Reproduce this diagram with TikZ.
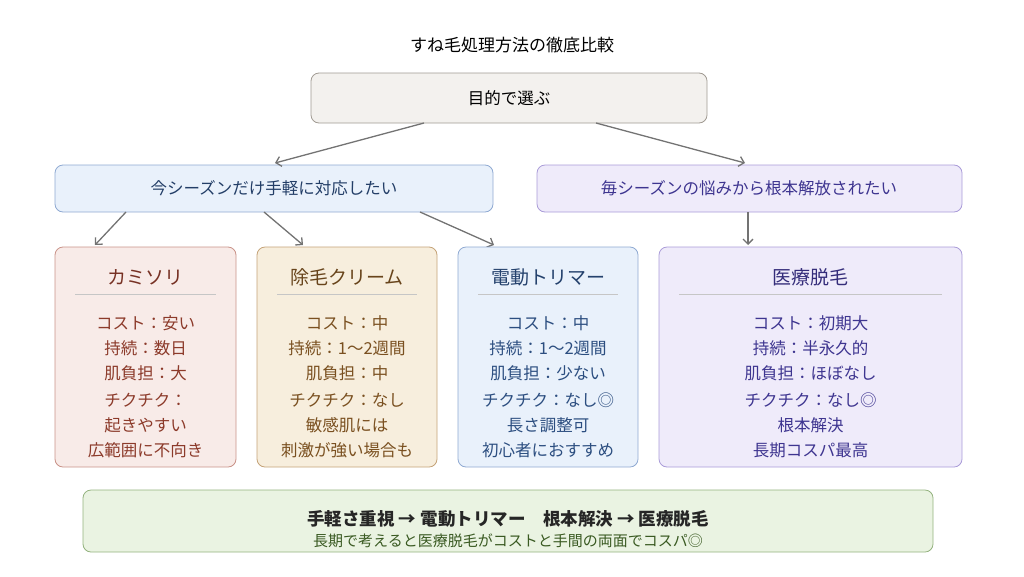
\documentclass[tikz,border=0pt]{standalone}
\usepackage{fontspec}
\usetikzlibrary{arrows.meta}
\setmainfont{Noto Sans CJK JP}
\begin{document}
\begin{tikzpicture}[x=1pt,y=-1pt,
 box/.style={draw,rounded corners=8pt,line width=0.8pt},
 arr/.style={draw=gray!90!black,line width=1.3pt,-{Straight Barb[length=5pt,width=10pt]}},
 t/.style={font=\fontsize{16.5}{19}\selectfont},
 h/.style={font=\fontsize{19}{22}\selectfont}]
\useasboundingbox (0,0) rectangle (1024,576);
\definecolor{gb}{HTML}{F3F1EE}\definecolor{gd}{HTML}{A09A92}
\definecolor{bb}{HTML}{E9F1FB}\definecolor{bd}{HTML}{8FA9D2}
\definecolor{lb}{HTML}{EFEBFA}\definecolor{ld}{HTML}{A99BD8}
\definecolor{pb}{HTML}{F8EBE8}\definecolor{pd}{HTML}{C99288}\definecolor{pt}{HTML}{8C3A2A}
\definecolor{cb}{HTML}{F7EEDD}\definecolor{cd}{HTML}{C4A277}\definecolor{ct}{HTML}{7A5020}
\definecolor{bt}{HTML}{2C4E80}\definecolor{lt}{HTML}{3E3590}
\definecolor{eb}{HTML}{EAF3E2}\definecolor{ed}{HTML}{93B27E}\definecolor{et}{HTML}{3A5A22}
\node[font=\fontsize{17}{20}\selectfont] (title) at (512,45) {すね毛処理方法の徹底比較};
\draw[box,fill=gb,draw=gd] (311,73) rectangle (707,123);
\node[t] (top) at (509,98) {目的で選ぶ};
\draw[box,fill=bb,draw=bd] (55,165) rectangle (493,212);
\node[t,text=bt!80!black] (ml) at (274,188) {今シーズンだけ手軽に対応したい};
\draw[box,fill=lb,draw=ld] (537,165) rectangle (962,212);
\node[t,text=lt] (mr) at (749,188) {毎シーズンの悩みから根本解放されたい};
\coordinate (a1) at (424,123);\coordinate (a2) at (275,163);
\coordinate (b1) at (596,123);\coordinate (b2) at (745,163);
\coordinate (c1) at (126,212);\coordinate (c2) at (95,245);
\coordinate (d1) at (264,212);\coordinate (d2) at (303,245);
\coordinate (e1) at (420,212);\coordinate (e2) at (494,245);
\coordinate (f1) at (748,212);\coordinate (f2) at (748,245);
\foreach \p/\q in {a1/a2,b1/b2,c1/c2,d1/d2,e1/e2,f1/f2} \draw[arr] (\p) -- (\q);
% boxes
\foreach \x/\X/\f/\d/\c/\n [count=\i] in {55/236/pb/pd/pt/カミソリ,257/437/cb/cd/ct/除毛クリーム,458/638/bb/bd/bt/電動トリマー,659/962/lb/ld/lt/医療脱毛}{
 \draw[box,fill=\f,draw=\d] (\x,247) rectangle (\X,467);
 \node[h,text=\c!85!black] (hd\i) at ({(\x+\X)/2},277) {\n};
 \draw[gray!45,line width=0.8pt] ({\x+20},294) -- ({\X-20},294);
}
\begin{scope}[every node/.style={t,text=pt}]
\node (p1) at (145.5,323) {コスト：安い};
\node (p2) at (145.5,348) {持続：数日};
\node (p3) at (145.5,373) {肌負担：大};
\node (p4) at (145.5,400) {チクチク：};
\node (p5) at (145.5,425) {起きやすい};
\node (p6) at (145.5,450) {広範囲に不向き};
\end{scope}
\begin{scope}[every node/.style={t,text=ct}]
\node (q1) at (347,323) {コスト：中};
\node (q2) at (347,348) {持続：1〜2週間};
\node (q3) at (347,373) {肌負担：中};
\node (q4) at (347,400) {チクチク：なし};
\node (q5) at (347,425) {敏感肌には};
\node (q6) at (347,450) {刺激が強い場合も};
\end{scope}
\begin{scope}[every node/.style={t,text=bt}]
\node (r1) at (548,323) {コスト：中};
\node (r2) at (548,348) {持続：1〜2週間};
\node (r3) at (548,373) {肌負担：少ない};
\node (r4) at (548,400) {チクチク：なし◎};
\node (r5) at (548,425) {長さ調整可};
\node (r6) at (548,450) {初心者におすすめ};
\end{scope}
\begin{scope}[every node/.style={t,text=lt}]
\node (s1) at (810.5,323) {コスト：初期大};
\node (s2) at (810.5,348) {持続：半永久的};
\node (s3) at (810.5,373) {肌負担：ほぼなし};
\node (s4) at (810.5,400) {チクチク：なし◎};
\node (s5) at (810.5,425) {根本解決};
\node (s6) at (810.5,450) {長期コスパ最高};
\end{scope}
\draw[box,fill=eb,draw=ed] (83,490) rectangle (933,552);
\node[font=\fontsize{17.5}{20}\selectfont\bfseries,text=black!85] (bt1) at (508,519) {手軽さ重視 → 電動トリマー\quad 根本解決 → 医療脱毛};
\node[font=\fontsize{15}{17}\selectfont,text=et] (bt2) at (508,541) {長期で考えると医療脱毛がコストと手間の両面でコスパ◎};
\end{tikzpicture}
\end{document}
